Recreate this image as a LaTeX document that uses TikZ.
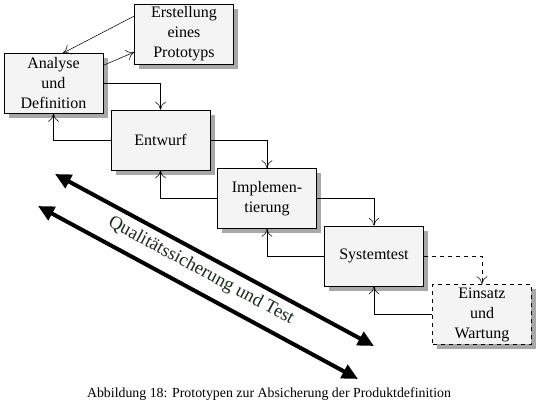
\documentclass[tikz,border=0pt]{standalone}
\usepackage{fontspec}
\setmainfont{Liberation Serif}
\usepackage{tikz}
\usetikzlibrary{arrows.meta,shadows}
\definecolor{boxfill}{HTML}{F4F4F4}
\definecolor{shadowgray}{HTML}{A8A8A8}
\definecolor{qstext}{HTML}{1C2C1C}

\begin{document}
\begin{tikzpicture}[x=0.75pt,y=-0.75pt]
        \tikzstyle{phase}=[rectangle,draw=black,fill=boxfill,minimum width=74pt,minimum height=45pt,inner sep=1pt,align=center,font=\fontsize{12}{15}\selectfont,drop shadow={shadow xshift=3.6pt,shadow yshift=-3.6pt,fill=shadowgray,opacity=1}]
        \tikzstyle{flow}=[->,>={To[length=6pt,width=8pt]},thin]
        \tikzstyle{qsarrow}=[{Triangle[length=12pt,width=11pt]}-{Triangle[length=12pt,width=11pt]},line width=3pt]
        \useasboundingbox (0,0) rectangle (537,406);

        \node[phase] (ana) at (53.5,83.5) {Analyse\\und\\Definition};
        \node[phase] (proto) at (184,34) {Erstellung\\eines\\Prototyps};
        \node[phase] (entw) at (160.5,140) {Entwurf};
        \node[phase] (impl) at (267,198.5) {Implemen-\\tierung};
        \node[phase] (sys) at (374,256) {Systemtest};
        \node[phase,dashed] (eins) at (482,314.5) {Einsatz\\und\\Wartung};

        % Prototyp
        \draw[flow] (ana.20) -- (proto.200);
        \draw[flow] (proto.160) -- (ana.73);

        % Wasserfall
        \draw[flow] (ana.east) -| (entw.north);
        \draw[flow] (entw.west) -| (ana.south);
        \draw[flow] (entw.east) -| (impl.north);
        \draw[flow] (impl.west) -| (entw.south);
        \draw[flow] (impl.east) -| (sys.north);
        \draw[flow] (sys.west) -| (impl.south);
        \draw[flow,dashed] (sys.east) -| (eins.north);
        \draw[flow] (eins.west) -| (sys.south);

        % Qualitaetssicherung
        \coordinate (qa1) at (55,174);
        \coordinate (qa2) at (374,346);
        \coordinate (qb1) at (38,206);
        \coordinate (qb2) at (358,379);
        \draw[qsarrow] (qa1) -- (qa2);
        \draw[qsarrow] (qb1) -- (qb2);
        \node[rotate=-28.3,text=qstext,font=\fontsize{14}{16}\selectfont] (qs) at (201,271) {Qualitätssicherung und Test};

        \node[font=\fontsize{10.4}{12}\selectfont] (cap) at (269,394) {Abbildung 18: Prototypen zur Absicherung der Produktdefinition};
    \end{tikzpicture}
\end{document}
